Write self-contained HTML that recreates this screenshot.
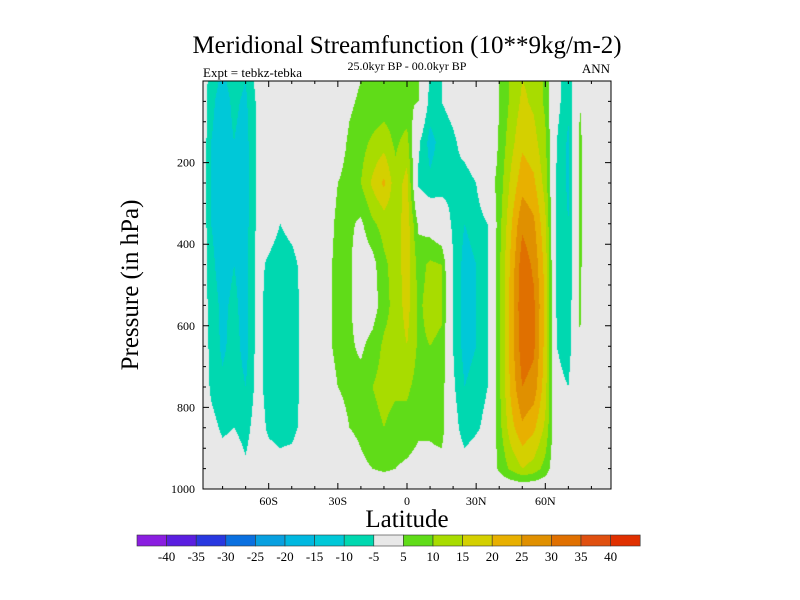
<!DOCTYPE html>
<html><head><meta charset="utf-8"><style>
body{margin:0;background:#fff;width:800px;height:600px;overflow:hidden;position:relative;font-family:"Liberation Serif",serif}
#cv{position:absolute;left:203px;top:81px}
svg{position:absolute;left:0;top:0}
</style></head><body>
<canvas id="cv" width="408" height="408"></canvas>
<svg id="s" width="800" height="600"></svg>
<script>
const lats=[-89,-85,-80,-75,-70,-65,-60,-55,-50,-45,-40,-35,-30,-25,-20,-15,-10,-5,0,5,10,15,20,25,30,35,40,45,50,55,60,65,70,75,80,85,89];
const levels=[0,50,150,250,350,450,550,650,750,850,950,1000];
const values=[
[0,0,0,0,0,0,0,0,0,0,0,0],
[-8,-9,-10,-10,-10,-9,-8,-7,-6,-3,0,0],
[-11,-12,-12,-12,-12,-12,-11,-11,-9,-6,-2,0],
[-8,-9,-10,-10,-10,-10,-9,-8,-7,-5,-1,0],
[-10,-11,-12,-12,-12,-12,-12,-12,-10,-7,-4,0],
[-3,-4,-4,-4,-4,-3,-3,-3,-3,-2,-1,0],
[0,0,0,0,-2,-6,-7,-7,-7,-6,-2,0],
[0,0,0,0,-5,-8,-8,-8,-8,-7,-3,0],
[0,0,0,0,-3,-7,-7,-7,-7,-7,-2,0],
[0,0,0,0,-1,-3,-4,-4,-4,-3,0,0],
[0,0,-4,-5,-1,0,0,0,0,0,0,0],
[0,0,0,2,3,4,4,4,3,2,0,0],
[0,0,2,5,6,6,6,6,5,3,0,0],
[3,4,6,7,6,6,6,6,6,5,2,0],
[5,6,8,10,4,1,1,4,7,6,4,0],
[6,6,11,16,9,3,2,7,10,8,5,0],
[7,7,13,21,12,9,8,11,12,10,6,0],
[7,7,9,12,12,12,12,12,11,8,5,0],
[6,6,12,17,18,18,17,15,11,8,4,0],
[5,5,-4,-6,4,8,9,9,8,6,3,0],
[-6,-7,-12,-9,2,11,12,10,8,6,3,0],
[-5,-5,-8,-7,-1,10,11,9,8,7,3,0],
[-3,-3,-6,-6,-6,-5,-5,-5,-4,-2,0,0],
[0,0,-3,-7,-10,-12,-12,-12,-10,-8,-2,0],
[0,0,-1,-5,-8,-10,-10,-10,-8,-6,0,0],
[0,-5,-3,2,-5,-6,-6,-5,-5,-3,0,0],
[5,5,6,7,8,9,9,9,9,8,6,0],
[11,11,13,16,19,21,22,22,21,18,11,0],
[15,16,19,23,29,33,34,33,30,24,15,0],
[14,14,17,21,26,29,31,31,28,21,13,0],
[9,9,11,13,16,18,19,18,17,14,8,0],
[-3,-3,-5,-6,-6,-6,-6,-5,-3,-1,0,0],
[-9,-9,-11,-11,-10,-10,-9,-8,-5,-2,0,0],
[5,5,6,6,6,6,6,5,5,4,0,0],
[0,0,0,0,0,-1,-3,-5,-5,-4,0,0],
[0,0,0,0,0,0,0,0,0,0,0,0],
[0,0,0,0,0,0,0,0,0,0,0,0]];
const cbLabels=["-40","-35","-30","-25","-20","-15","-10","-5","5","10","15","20","25","30","35","40"];
const bounds=[-40,-35,-30,-25,-20,-15,-10,-5,5,10,15,20,25,30,35,40];
const colors=["#8a1ee0","#5a1ee0","#2838e0","#0a70e0","#08a0e0","#00b8e0","#00c8d8","#00d8b0","#e8e8e8","#60dc18","#a8dc00","#d4d000","#e8b000","#e09000","#e07000","#e05010","#e03000"];
const xLabels=["60S","30S","0","30N","60N"], xVals=[-60,-30,0,30,60];
const yLabels=["200","400","600","800","1000"], yVals=[200,400,600,800,1000];
const L=203,T=81,W=408,H=408,latMin=-88.5,latMax=88.5;
const xs=v=>L+(v-latMin)/(latMax-latMin)*W, ys=p=>T+p/1000*H;
function interp(arr,v){if(v<=arr[0])return[0,0,0];if(v>=arr[arr.length-1])return[arr.length-1,arr.length-1,0];
 let i=0;while(arr[i+1]<v)i++;return[i,i+1,(v-arr[i])/(arr[i+1]-arr[i])];}
const ctx=document.getElementById('cv').getContext('2d');
const img=ctx.createImageData(W,H);
const rgb=colors.map(c=>[1,3,5].map(k=>parseInt(c.substr(k,2),16)));
for(let py=0;py<H;py++){const p=(py+0.5)/H*1000;const [r0,r1,fr]=interp(levels,p);
 for(let px=0;px<W;px++){const la=latMin+(px+0.5)/W*(latMax-latMin);const [c0,c1,fc]=interp(lats,la);
  const v=(values[c0][r0]*(1-fr)+values[c0][r1]*fr)*(1-fc)+(values[c1][r0]*(1-fr)+values[c1][r1]*fr)*fc;
  let i=0;while(i<bounds.length&&v>=bounds[i])i++;const c=rgb[i];const o=(py*W+px)*4;
  img.data[o]=c[0];img.data[o+1]=c[1];img.data[o+2]=c[2];img.data[o+3]=255;}}
ctx.putImageData(img,0,0);
const s=document.getElementById('s'),NS="http://www.w3.org/2000/svg";
function mk(t,a,txt){const e=document.createElementNS(NS,t);for(const k in a)e.setAttribute(k,a[k]);if(txt!=null)e.textContent=txt;s.appendChild(e);return e;}
let e;
e=mk('rect',{x:L,y:T,width:W,height:H,fill:'none',stroke:'#000','stroke-width':1});


for(let la=-80;la<=80;la+=10){const x=xs(la),len=la%30===0?6:3;
 e=mk('path',{d:`M${x},${T+H}v${-len}M${x},${T}v${len}`,stroke:'#000','stroke-width':1});
 
 }
for(let p=50;p<1000;p+=50){const y=ys(p),len=p%200===0?6:3;
 e=mk('path',{d:`M${L},${y}h${len}M${L+W},${y}h${-len}`,stroke:'#000','stroke-width':1});
 
 }
xVals.forEach((v,i)=>{e=mk('text',{x:xs(v),y:505,'font-size':12,'text-anchor':'middle'},xLabels[i]);
 
 });
yVals.forEach((v,i)=>{e=mk('text',{x:195,y:ys(v)+4,'font-size':12,'text-anchor':'end'},yLabels[i]);
 
 });
e=mk('text',{x:407,y:53,'font-size':25,'text-anchor':'middle'},'Meridional Streamfunction (10**9kg/m-2)');


e=mk('text',{x:407,y:70,'font-size':12,'text-anchor':'middle'},'25.0kyr BP - 00.0kyr BP');


e=mk('text',{x:203,y:77,'font-size':13},'Expt = tebkz-tebka');


e=mk('text',{x:610,y:73,'font-size':13,'text-anchor':'end'},'ANN');


e=mk('text',{x:407,y:527,'font-size':25,'text-anchor':'middle'},'Latitude');


e=mk('text',{x:0,y:0,'font-size':25,'text-anchor':'middle',transform:'translate(138,285) rotate(-90)'},'Pressure (in hPa)');


colors.forEach((c,i)=>{e=mk('rect',{x:137+i*29.6,y:535,width:29.6,height:11,fill:c,stroke:'#333','stroke-width':0.6});
 
 });
cbLabels.forEach((t,i)=>{e=mk('text',{x:166.6+i*29.6,y:561,'font-size':13,'text-anchor':'middle'},t);
 
 });
</script>
</body></html>
